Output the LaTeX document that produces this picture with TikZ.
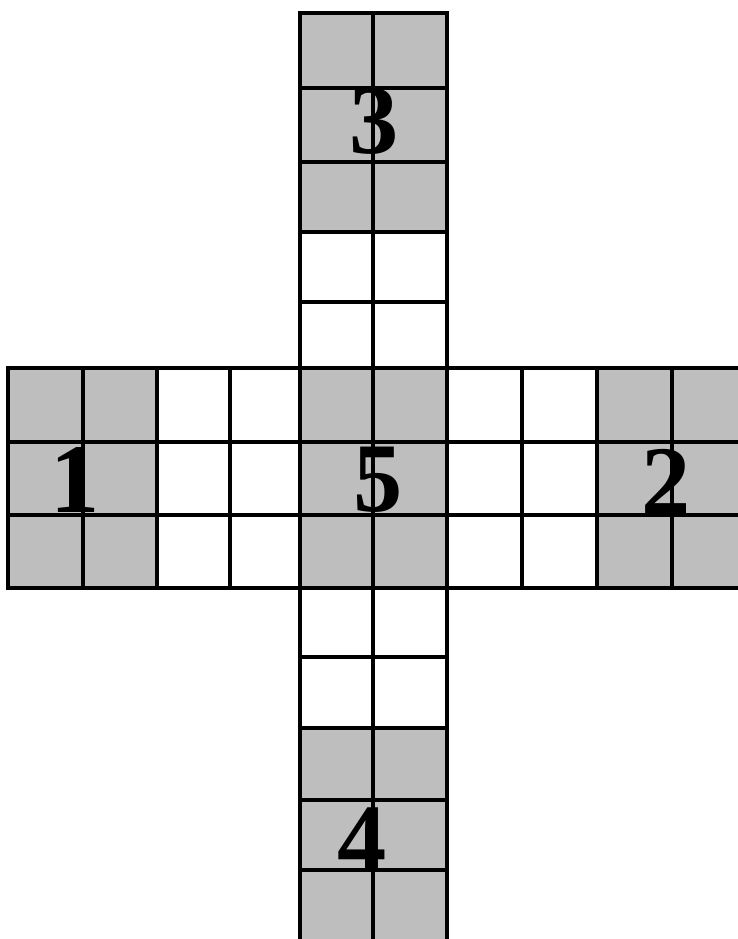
\documentclass[tikz,border=0pt]{standalone}
\usepackage{fontspec}
\setmainfont{Liberation Serif}
\definecolor{stipple}{HTML}{BEBEBE}
\tikzset{
  darkcell/.style={fill=stipple},
  gridline/.style={draw=black, line width=2.8pt, line cap=rect},
  digit/.style={font=\fontsize{84}{84}\selectfont\bfseries, inner sep=0pt},
}
\begin{document}
\begin{tikzpicture}[x=0.03cm, y=-0.03cm]
    \useasboundingbox (0,0) rectangle (738,939);
    \clip (0,0) rectangle (738,939);
    \foreach \xa/\ya/\xb/\yb in {300/13/447/232, 300/728/447/960, 8/368/157/588, 597/368/760/588, 300/368/447/588}
      { \fill[darkcell] (\xa,\ya) rectangle (\xb,\yb); }
    \foreach \y in {368,442,515,588}
      { \draw[gridline] (8,\y) -- (760,\y); }
    \foreach \x in {8,83,157,230,522,597,672}
      { \draw[gridline] (\x,368) -- (\x,588); }
    \foreach \x in {300,373,447}
      { \draw[gridline] (\x,13) -- (\x,960); }
    \foreach \y in {13,88,162,232,302,657,728,800,870}
      { \draw[gridline] (300,\y) -- (447,\y); }
    \node[digit] (n1) at (75,480) {1};
    \node[digit] (n2) at (666,482) {2};
    \node[digit] (n3) at (374,121) {3};
    \node[digit] (n4) at (362,840) {4};
    \node[digit] (n5) at (378,480) {5};
  \end{tikzpicture}
\end{document}
